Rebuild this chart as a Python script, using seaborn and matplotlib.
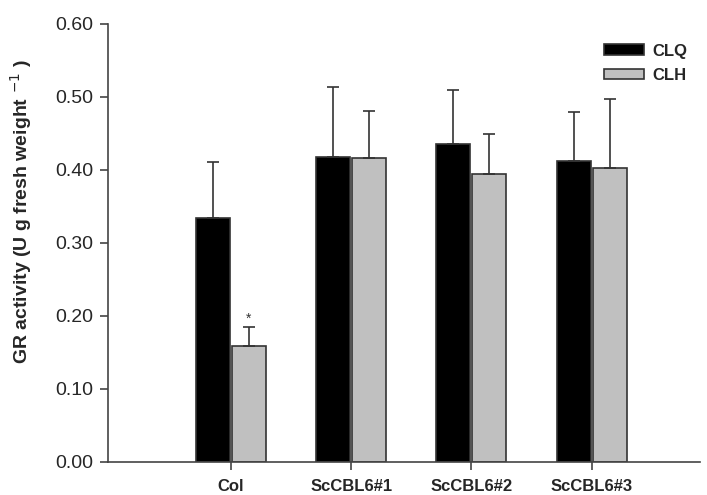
import matplotlib
matplotlib.use("Agg")
import matplotlib.pyplot as plt
import seaborn as sns
import numpy as np
import pandas as pd

genotypes = ["Col", "ScCBL6#1", "ScCBL6#2", "ScCBL6#3"]
treatments = ["CLQ", "CLH"]
clq_mean = [0.334, 0.418, 0.435, 0.412]
clq_err = [0.077, 0.095, 0.074, 0.067]
clh_mean = [0.158, 0.416, 0.394, 0.402]
clh_err = [0.026, 0.065, 0.055, 0.095]
yticks = [0.0, 0.1, 0.2, 0.3, 0.4, 0.5, 0.6]

sns.set_style("white")
plt.rcParams["font.family"] = ["Liberation Sans", "DejaVu Sans"]

df = pd.DataFrame({
    "genotype": genotypes * 2,
    "treatment": ["CLQ"] * 4 + ["CLH"] * 4,
    "value": clq_mean + clh_mean,
})
errs = {"CLQ": clq_err, "CLH": clh_err}

fig = plt.figure(figsize=(7.07, 4.95), dpi=100)
ax = fig.add_axes([0.153, 0.067, 0.837, 0.885])

sns.barplot(data=df, x="genotype", y="value", hue="treatment",
            hue_order=treatments, order=genotypes,
            palette={"CLQ": "black", "CLH": "#c0c0c0"},
            width=0.6, gap=0.06, edgecolor="#333333", linewidth=1.2,
            errorbar=None, ax=ax)

# upward-only error bars on the bar centres
for cont, t in zip(ax.containers, treatments):
    xs = [p.get_x() + p.get_width() / 2 for p in cont.patches]
    hs = [p.get_height() for p in cont.patches]
    ax.errorbar(xs, hs, yerr=[np.zeros(len(hs)), errs[t]], fmt="none",
                ecolor="#333333", elinewidth=1.2, capsize=4.3, capthick=1.2)

# significance mark on Col / CLH
p = ax.containers[1].patches[0]
ax.text(p.get_x() + p.get_width() / 2, clh_mean[0] + clh_err[0] + 0.002, "*",
        ha="center", va="bottom", fontsize=10, color="#333333")

ax.set_xlim(-1.02, 3.9)
ax.set_ylim(0, 0.6)
ax.set_yticks(yticks)
ax.set_yticklabels([f"{v:.2f}" for v in yticks], fontsize=14)
ax.set_xticks(range(len(genotypes)))
ax.set_xticklabels(genotypes, fontsize=12, fontweight="bold")
ax.set_xlabel("")
ax.set_ylabel("GR activity (U g fresh weight $^{-1}$ )", fontsize=14,
              fontweight="bold")
ax.yaxis.set_label_coords(-0.125, 0.57)
ax.tick_params(axis="both", direction="out", length=6, width=1.2,
               color="#444444", bottom=True, left=True)
ax.tick_params(axis="x", pad=6)
ax.tick_params(axis="y", pad=5)
for side in ["top", "right"]:
    ax.spines[side].set_visible(False)
for side in ["left", "bottom"]:
    ax.spines[side].set_color("#444444")
    ax.spines[side].set_linewidth(1.2)

leg = ax.legend(loc="upper right", bbox_to_anchor=(0.99, 0.97), frameon=False,
                fontsize=12, handlelength=2.4, handleheight=0.6,
                handletextpad=0.5, labelspacing=0.55, borderaxespad=0)
for txt in leg.get_texts():
    txt.set_fontweight("bold")

fig.savefig("out.png", dpi=100)
